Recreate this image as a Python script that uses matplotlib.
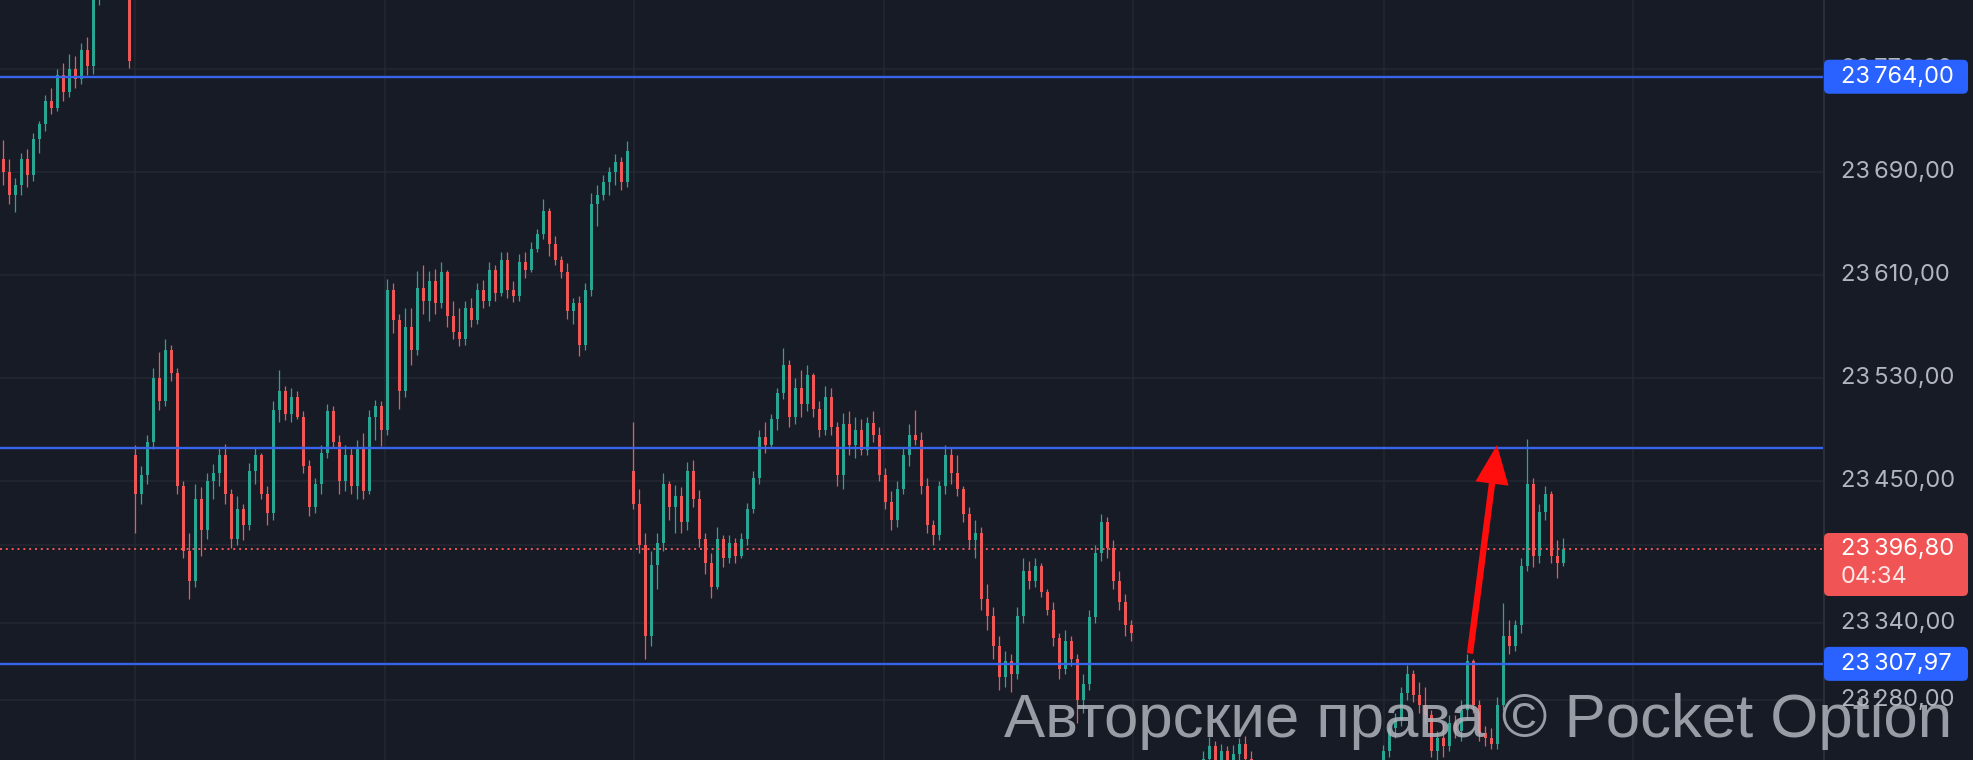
import numpy as np
import matplotlib

matplotlib.use("Agg")
import matplotlib.pyplot as plt
from matplotlib.patches import FancyBboxPatch, FancyArrowPatch

# candle data (one candle per bar, left to right)
opens = [
    23700, 23690, 23672, 23680, 23700, 23688, 23716, 23727, 23745, 23740,
    23765, 23752, 23770, 23762, 23785, 23772, 23828, 23845, 23855, 23848,
    23840, 23830, 23470, 23440, 23455, 23480, 23530, 23512, 23552, 23534,
    23446, 23396, 23372, 23436, 23412, 23450, 23456, 23470, 23440, 23405,
    23428, 23416, 23458, 23470, 23440, 23425, 23505, 23520, 23502, 23515,
    23500, 23462, 23430, 23448, 23472, 23504, 23480, 23450, 23470, 23446,
    23476, 23442, 23500, 23508, 23490, 23598, 23575, 23520, 23570, 23552,
    23600, 23590, 23605, 23588, 23612, 23578, 23566, 23560, 23584, 23575,
    23598, 23590, 23614, 23596, 23622, 23598, 23594, 23620, 23614, 23630,
    23642, 23660, 23634, 23622, 23612, 23582, 23588, 23556, 23598, 23665,
    23672, 23682, 23690, 23698, 23682, 23458, 23432, 23400, 23330, 23385,
    23402, 23448, 23430, 23438, 23418, 23458, 23436, 23405, 23386, 23368,
    23405, 23390, 23402, 23392, 23405, 23428, 23452, 23484, 23478, 23498,
    23518, 23540, 23500, 23522, 23510, 23532, 23506, 23490, 23515, 23492,
    23455, 23494, 23478, 23490, 23474, 23495, 23486, 23455, 23434, 23420,
    23444, 23470, 23486, 23482, 23446, 23416, 23408, 23446, 23470, 23456,
    23444, 23424, 23404, 23410, 23358, 23345, 23322, 23298, 23310, 23300,
    23345, 23380, 23372, 23384, 23364, 23350, 23328, 23304, 23326, 23312,
    23280, 23292, 23344, 23394, 23418, 23398, 23372, 23356, 23338, 23200,
    23192, 23185, 23178, 23190, 23204, 23212, 23206, 23215, 23220, 23224,
    23218, 23234, 23244, 23230, 23240, 23226, 23238, 23246, 23234, 23218,
    23206, 23196, 23202, 23194, 23186, 23192, 23204, 23198, 23208, 23214,
    23210, 23202, 23212, 23220, 23216, 23224, 23218, 23222, 23226, 23228,
    23230, 23240, 23258, 23264, 23285, 23300, 23284, 23276, 23268, 23240,
    23250, 23244, 23262, 23256, 23272, 23310, 23276, 23254, 23250, 23246,
    23276, 23330, 23322, 23338, 23384, 23448, 23392, 23426, 23440, 23392,
    23386,
]
highs = [
    23715, 23700, 23685, 23705, 23708, 23720, 23730, 23750, 23755, 23770,
    23775, 23782, 23780, 23790, 23795, 23832, 23850, 23862, 23870, 23858,
    23848, 23833, 23478, 23462, 23486, 23538, 23550, 23560, 23556, 23538,
    23450, 23410, 23448, 23445, 23456, 23463, 23476, 23479, 23444, 23438,
    23432, 23464, 23476, 23472, 23446, 23512, 23536, 23524, 23522, 23520,
    23504, 23466, 23452, 23478, 23510, 23508, 23486, 23478, 23476, 23482,
    23487, 23505, 23513, 23512, 23607, 23604, 23580, 23584, 23584, 23613,
    23618, 23613, 23615, 23620, 23614, 23590, 23584, 23590, 23592, 23604,
    23606, 23620, 23618, 23628, 23628, 23605, 23626, 23628, 23636, 23646,
    23669, 23662, 23640, 23625, 23619, 23592, 23594, 23604, 23674, 23680,
    23688, 23694, 23704, 23702, 23714, 23496, 23444, 23410, 23396, 23410,
    23456, 23450, 23447, 23445, 23465, 23466, 23443, 23410, 23394, 23414,
    23408, 23408, 23406, 23410, 23433, 23458, 23490, 23496, 23502, 23522,
    23553, 23544, 23530, 23536, 23540, 23534, 23512, 23524, 23522, 23496,
    23503, 23504, 23500, 23498, 23500, 23504, 23492, 23460, 23442, 23450,
    23476, 23494, 23505, 23488, 23452, 23420, 23450, 23478, 23476, 23470,
    23446, 23430, 23420, 23414, 23370, 23352, 23330, 23318, 23316, 23352,
    23390, 23388, 23390, 23386, 23366, 23356, 23332, 23334, 23330, 23316,
    23300, 23350, 23400, 23424, 23422, 23404, 23380, 23362, 23342, 23214,
    23205, 23198, 23195, 23210, 23220, 23225, 23222, 23228, 23230, 23231,
    23240, 23251, 23248, 23246, 23244, 23245, 23250, 23252, 23240, 23226,
    23215, 23208, 23212, 23200, 23198, 23210, 23215, 23212, 23222, 23226,
    23220, 23216, 23226, 23230, 23228, 23231, 23228, 23230, 23232, 23233,
    23245, 23262, 23270, 23290, 23307, 23303, 23294, 23290, 23272, 23256,
    23262, 23268, 23268, 23280, 23316, 23312, 23280, 23260, 23258, 23282,
    23355, 23342, 23342, 23390, 23483, 23452, 23432, 23446, 23442, 23404,
    23406,
]
lows = [
    23680, 23665, 23659, 23672, 23678, 23683, 23705, 23722, 23735, 23737,
    23745, 23748, 23755, 23758, 23765, 23766, 23820, 23835, 23840, 23832,
    23826, 23771, 23410, 23432, 23448, 23475, 23505, 23508, 23528, 23440,
    23390, 23358, 23368, 23392, 23405, 23436, 23446, 23432, 23398, 23400,
    23404, 23412, 23448, 23436, 23416, 23420, 23496, 23497, 23496, 23498,
    23456, 23423, 23425, 23440, 23468, 23476, 23440, 23442, 23440, 23436,
    23436, 23440, 23482, 23477, 23486, 23565, 23506, 23515, 23540, 23548,
    23580, 23574, 23580, 23584, 23570, 23560, 23555, 23556, 23570, 23572,
    23584, 23586, 23590, 23594, 23592, 23589, 23590, 23608, 23612, 23628,
    23638, 23625, 23618, 23608, 23576, 23572, 23547, 23552, 23594, 23648,
    23668, 23672, 23680, 23676, 23678, 23428, 23394, 23312, 23322, 23366,
    23396, 23420, 23410, 23410, 23412, 23430, 23399, 23378, 23359, 23366,
    23383, 23386, 23386, 23390, 23400, 23425, 23448, 23472, 23476, 23490,
    23514, 23492, 23494, 23500, 23504, 23500, 23484, 23486, 23486, 23446,
    23444, 23470, 23468, 23470, 23470, 23480, 23450, 23428, 23412, 23414,
    23440, 23462, 23478, 23440, 23410, 23400, 23404, 23440, 23448, 23438,
    23418, 23398, 23390, 23350, 23334, 23312, 23288, 23290, 23286, 23296,
    23340, 23366, 23368, 23360, 23346, 23322, 23296, 23300, 23306, 23262,
    23270, 23288, 23340, 23388, 23390, 23366, 23350, 23330, 23326, 23182,
    23175, 23168, 23170, 23184, 23196, 23200, 23198, 23206, 23210, 23212,
    23214, 23226, 23224, 23222, 23220, 23220, 23230, 23228, 23212, 23200,
    23190, 23185, 23190, 23178, 23176, 23186, 23194, 23190, 23200, 23204,
    23196, 23198, 23206, 23210, 23208, 23212, 23206, 23214, 23216, 23220,
    23224, 23236, 23250, 23260, 23280, 23278, 23270, 23262, 23236, 23228,
    23236, 23240, 23250, 23248, 23264, 23270, 23248, 23244, 23242, 23242,
    23272, 23316, 23318, 23332, 23380, 23383, 23386, 23420, 23386, 23375,
    23384,
]
closes = [
    23690, 23672, 23680, 23700, 23688, 23716, 23727, 23745, 23740, 23765,
    23752, 23770, 23762, 23785, 23772, 23828, 23845, 23855, 23848, 23840,
    23830, 23776, 23440, 23455, 23480, 23530, 23512, 23552, 23534, 23446,
    23396, 23372, 23436, 23412, 23450, 23456, 23470, 23440, 23405, 23428,
    23416, 23458, 23470, 23440, 23425, 23505, 23520, 23502, 23515, 23500,
    23462, 23430, 23448, 23472, 23504, 23480, 23450, 23470, 23446, 23476,
    23442, 23500, 23508, 23490, 23598, 23575, 23520, 23570, 23552, 23600,
    23590, 23605, 23588, 23612, 23578, 23566, 23560, 23584, 23575, 23598,
    23590, 23614, 23596, 23622, 23598, 23594, 23620, 23614, 23630, 23642,
    23660, 23634, 23622, 23612, 23582, 23588, 23556, 23598, 23665, 23672,
    23682, 23690, 23698, 23682, 23706, 23432, 23400, 23330, 23385, 23402,
    23448, 23430, 23438, 23418, 23458, 23436, 23405, 23386, 23368, 23405,
    23390, 23402, 23392, 23405, 23428, 23452, 23484, 23478, 23498, 23518,
    23540, 23500, 23522, 23510, 23532, 23506, 23490, 23515, 23492, 23455,
    23494, 23478, 23490, 23474, 23495, 23486, 23455, 23434, 23420, 23444,
    23470, 23486, 23482, 23446, 23416, 23408, 23446, 23470, 23456, 23444,
    23424, 23404, 23410, 23358, 23345, 23322, 23298, 23310, 23300, 23345,
    23380, 23372, 23384, 23364, 23350, 23328, 23304, 23326, 23312, 23280,
    23292, 23344, 23394, 23418, 23398, 23372, 23356, 23338, 23332, 23192,
    23185, 23178, 23190, 23204, 23212, 23206, 23215, 23220, 23224, 23218,
    23234, 23244, 23230, 23240, 23226, 23238, 23246, 23234, 23218, 23206,
    23196, 23202, 23194, 23186, 23192, 23204, 23198, 23208, 23214, 23210,
    23202, 23212, 23220, 23216, 23224, 23218, 23222, 23226, 23228, 23230,
    23240, 23258, 23264, 23285, 23300, 23284, 23276, 23268, 23240, 23250,
    23244, 23262, 23256, 23272, 23310, 23276, 23254, 23250, 23246, 23276,
    23330, 23322, 23338, 23384, 23448, 23392, 23426, 23440, 23392, 23386,
    23396.8,
]

levels = [23764.00, 23476.00, 23307.97]
labelled_levels = [23764.00, 23307.97]
grid_prices = [23770, 23690, 23610, 23530, 23450, 23400, 23340, 23280]
price_labels = [23770, 23690, 23610, 23530, 23450, 23340, 23280]
time_grid = [22.0, 63.7, 105.2, 146.8, 188.3, 230.2, 271.7]
last_price = 23396.80
countdown = "04:34"
arrow_start = (244.5, 23316)
arrow_end = (249.0, 23478)
watermark = "Авторские права © Pocket Option"

BG = "#171b26"
GRID = "#242833"
UP = "#2aa593"
DOWN = "#f05656"
BLUE_LINE = "#3864ea"
BLUE_BOX = "#2962ff"
TXT = "#b2b5be"
FONT = ["Inter", "DejaVu Sans"]

W, H = 1973, 760
PLOT_W = 1823
Y0, Y1 = 23233.3, 23823.6
PX_PER_PRICE = H / (Y1 - Y0)


def fmt(v):
    s = f"{v:,.2f}"
    return s.replace(",", "\u2009").replace(".", ",")


fig = plt.figure(figsize=(W / 100, H / 100), dpi=100, facecolor=BG)
ax = fig.add_axes([0, 0, PLOT_W / W, 1])
ax.set_facecolor(BG)
ax.set_xlim(-0.5, (PLOT_W - 3) / 6)
ax.set_ylim(Y0, Y1)
for s in ax.spines.values():
    s.set_visible(False)
ax.set_xticks(time_grid)
ax.set_yticks(grid_prices)
ax.tick_params(length=0, labelbottom=False, labelleft=False)
ax.grid(True, color=GRID, lw=1.1)
ax.set_axisbelow(True)

o = np.array(opens, float)
h = np.array(highs, float)
l = np.array(lows, float)
c = np.array(closes, float)
x = np.arange(len(c))
colors = np.where(c >= o, UP, DOWN)
ax.vlines(x, l, h, colors=colors, lw=0.9, zorder=2)
ax.bar(x, np.maximum(np.abs(c - o), 1.2), bottom=np.minimum(o, c),
       width=0.5, color=colors, linewidth=0, zorder=2)

for lv in levels:
    ax.axhline(lv, color=BLUE_LINE, lw=1.7, zorder=3)
ax.axhline(last_price, color=DOWN, lw=1.4, ls=(0, (1, 2)), zorder=3)

arrow = FancyArrowPatch(arrow_start, arrow_end, mutation_scale=1,
                        arrowstyle="simple,head_length=28,head_width=24,tail_width=4.6",
                        color="#ff0d0d", lw=0, shrinkA=0, shrinkB=0, zorder=5)
ax.add_patch(arrow)

# price scale panel
ax2 = fig.add_axes([PLOT_W / W, 0, (W - PLOT_W) / W, 1])
ax2.set_facecolor(BG)
ax2.set_xlim(0, W - PLOT_W)
ax2.set_ylim(Y0, Y1)
ax2.axis("off")
ax2.axvline(0.6, color="#2a2e39", lw=1.5)

for t in price_labels:
    ax2.text(18, t, fmt(t), color=TXT, fontsize=17, family=FONT,
             ha="left", va="center", zorder=2)


def price_box(center, up_px, down_px, color):
    box = FancyBboxPatch((1, center - down_px / PX_PER_PRICE), 144,
                         (up_px + down_px) / PX_PER_PRICE,
                         boxstyle="round,pad=0,rounding_size=5",
                         mutation_aspect=1 / PX_PER_PRICE,
                         fc=color, ec="none", zorder=4)
    ax2.add_patch(box)


for lv in labelled_levels:
    price_box(lv, 17, 17, BLUE_BOX)
    ax2.text(18, lv, fmt(lv), color="white", fontsize=17, family=FONT,
             ha="left", va="center", zorder=5)

price_box(last_price, 16.5, 46.5, "#f05454")
ax2.text(18, last_price, fmt(last_price), color="white", fontsize=17,
         family=FONT, ha="left", va="center", zorder=5)
ax2.text(18, last_price - 28 / PX_PER_PRICE, countdown, color="#ffffff",
         alpha=0.85, fontsize=17, family=FONT, ha="left", va="center", zorder=5)

fig.text(1004 / W, (H - 737) / H, watermark, fontsize=44.5,
         family=["Liberation Sans", "DejaVu Sans"], color="#b0b4bb",
         alpha=0.85, ha="left", va="baseline", zorder=10)

fig.savefig("out.png", dpi=100, facecolor=BG)
plt.close(fig)
